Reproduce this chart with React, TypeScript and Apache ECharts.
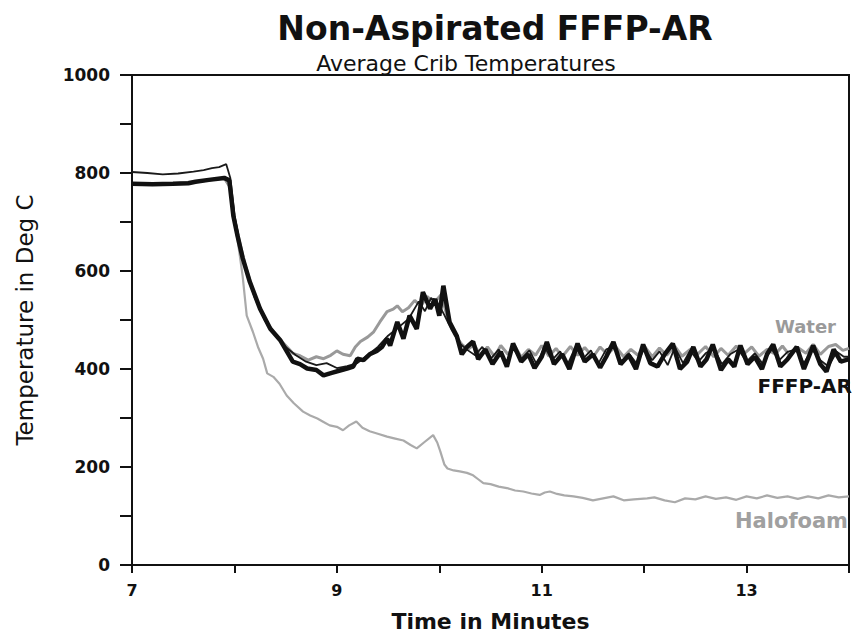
import React, { useEffect, useRef } from "react";
import * as echarts from "echarts";

const xTicks = [7, 9, 11, 13];
const yTickLabels = [0, 200, 400, 600, 800, 1000];

const fffpAR: [number, number][] = [
  [7.0, 778], [7.2, 777], [7.4, 778], [7.55, 779], [7.62, 782], [7.75, 786], [7.9, 790], [7.95, 785],
  [7.99, 712], [8.03, 672], [8.08, 627], [8.15, 578], [8.25, 523], [8.35, 482], [8.45, 458], [8.57, 415],
  [8.64, 410], [8.71, 401], [8.8, 398], [8.87, 387], [8.95, 392], [9.03, 397], [9.1, 401], [9.16, 405],
  [9.2, 421], [9.26, 418], [9.32, 430], [9.39, 437], [9.44, 445], [9.49, 462], [9.52, 448], [9.59, 496],
  [9.65, 462], [9.71, 509], [9.78, 482], [9.84, 557], [9.91, 523], [9.96, 543], [10.0, 509], [10.04, 570],
  [10.1, 496], [10.17, 468], [10.22, 430], [10.27, 445], [10.33, 456], [10.38, 420], [10.45, 440], [10.52, 410],
  [10.6, 435], [10.66, 405], [10.72, 452], [10.8, 415], [10.87, 430], [10.93, 402], [11.0, 425], [11.05, 455],
  [11.12, 410], [11.2, 430], [11.27, 400], [11.35, 452], [11.42, 415], [11.5, 430], [11.57, 403], [11.63, 425],
  [11.7, 455], [11.77, 410], [11.85, 428], [11.92, 400], [11.99, 450], [12.06, 412], [12.13, 405], [12.2, 430],
  [12.28, 452], [12.35, 400], [12.42, 415], [12.48, 445], [12.55, 405], [12.61, 420], [12.67, 450], [12.75, 398],
  [12.82, 420], [12.88, 405], [12.94, 448], [13.01, 410], [13.08, 425], [13.15, 400], [13.2, 430], [13.26, 450],
  [13.33, 405], [13.4, 420], [13.49, 445], [13.56, 400], [13.65, 448], [13.72, 410], [13.78, 395], [13.85, 440],
  [13.92, 415], [14.0, 420],
];

const fffpAR2: [number, number][] = [
  [7.0, 802], [7.15, 800], [7.3, 797], [7.45, 799], [7.6, 803], [7.7, 806], [7.78, 810], [7.85, 812], [7.92, 818],
  [7.96, 790], [8.0, 715], [8.05, 660], [8.1, 612], [8.2, 545], [8.3, 498], [8.4, 470], [8.5, 445], [8.6, 428],
  [8.7, 415], [8.8, 408], [8.9, 412], [9.0, 402], [9.1, 406], [9.2, 412], [9.3, 428], [9.4, 445], [9.5, 468],
  [9.6, 485], [9.7, 502], [9.8, 538], [9.86, 518], [9.92, 545], [10.0, 530], [10.05, 510], [10.12, 480], [10.2, 452],
  [10.28, 438], [10.35, 428], [10.42, 445], [10.5, 420], [10.58, 440], [10.65, 412], [10.72, 442], [10.8, 420],
  [10.88, 438], [10.95, 410], [11.03, 445], [11.1, 418], [11.18, 436], [11.25, 408], [11.33, 445], [11.4, 420],
  [11.48, 438], [11.55, 410], [11.63, 440], [11.7, 445], [11.78, 415], [11.85, 432], [11.93, 410], [12.0, 442],
  [12.08, 418], [12.15, 436], [12.23, 408], [12.3, 444], [12.38, 412], [12.45, 438], [12.53, 415], [12.6, 432],
  [12.68, 442], [12.76, 410], [12.84, 430], [12.92, 440], [13.0, 415], [13.08, 432], [13.16, 410], [13.24, 442],
  [13.32, 418], [13.4, 435], [13.48, 440], [13.56, 412], [13.64, 440], [13.72, 418], [13.8, 405], [13.88, 435],
  [13.95, 425], [14.0, 425],
];

const water: [number, number][] = [
  [7.0, 778], [7.4, 778], [7.62, 782], [7.9, 790], [7.96, 770], [8.0, 705], [8.05, 660], [8.1, 615], [8.2, 548], [8.3, 500],
  [8.4, 470], [8.5, 448], [8.57, 432], [8.64, 427], [8.72, 418], [8.8, 425], [8.87, 421], [8.94, 428], [9.0, 437],
  [9.06, 430], [9.13, 427], [9.18, 445], [9.23, 456], [9.3, 465], [9.36, 476], [9.42, 496], [9.49, 517], [9.55, 522],
  [9.59, 529], [9.64, 517], [9.7, 525], [9.76, 540], [9.82, 528], [9.88, 548], [9.95, 535], [10.02, 552], [10.08, 505],
  [10.15, 470], [10.22, 450], [10.28, 440], [10.34, 450], [10.4, 428], [10.47, 445], [10.54, 425], [10.6, 448],
  [10.67, 430], [10.74, 446], [10.8, 424], [10.87, 440], [10.94, 428], [11.0, 448], [11.07, 426], [11.14, 442],
  [11.2, 425], [11.28, 446], [11.35, 428], [11.42, 444], [11.5, 424], [11.57, 445], [11.64, 430], [11.72, 446],
  [11.8, 425], [11.87, 440], [11.94, 428], [12.0, 447], [12.08, 425], [12.15, 443], [12.22, 428], [12.3, 446],
  [12.37, 426], [12.45, 440], [12.52, 430], [12.6, 446], [12.68, 425], [12.75, 442], [12.82, 428], [12.9, 447],
  [12.97, 430], [13.05, 445], [13.12, 426], [13.2, 440], [13.28, 430], [13.35, 447], [13.42, 428], [13.5, 444],
  [13.58, 432], [13.65, 450], [13.72, 430], [13.8, 446], [13.87, 450], [13.94, 438], [14.0, 442],
];

const halofoam: [number, number][] = [
  [7.0, 778], [7.4, 778], [7.62, 782], [7.9, 790], [7.96, 770], [8.0, 705], [8.04, 650], [8.08, 590], [8.12, 509], [8.18, 476],
  [8.23, 445], [8.28, 421], [8.32, 391], [8.38, 384], [8.44, 370], [8.51, 346], [8.58, 330], [8.67, 313], [8.74, 305],
  [8.81, 299], [8.87, 292], [8.93, 285], [9.0, 282], [9.06, 275], [9.12, 285], [9.19, 293], [9.25, 280], [9.32, 273],
  [9.4, 268], [9.49, 262], [9.57, 258], [9.65, 254], [9.72, 245], [9.78, 238], [9.85, 250], [9.94, 265], [9.98, 250],
  [10.01, 232], [10.05, 205], [10.08, 197], [10.14, 193], [10.2, 191], [10.27, 188], [10.33, 183], [10.38, 175],
  [10.43, 167], [10.5, 165], [10.58, 160], [10.66, 157], [10.74, 152], [10.82, 150], [10.9, 146], [10.98, 143],
  [11.03, 148], [11.08, 150], [11.15, 145], [11.22, 142], [11.31, 140], [11.4, 137], [11.5, 132], [11.6, 136],
  [11.7, 140], [11.8, 132], [11.9, 134], [12.03, 136], [12.1, 138], [12.2, 132], [12.3, 128], [12.4, 136],
  [12.5, 134], [12.6, 140], [12.7, 135], [12.8, 138], [12.9, 133], [13.0, 140], [13.1, 136], [13.2, 142],
  [13.3, 137], [13.4, 140], [13.5, 135], [13.6, 140], [13.7, 136], [13.8, 142], [13.9, 138], [14.0, 140],
];

const FONT = "DejaVu Sans";

export default function App() {
  const ref = useRef<HTMLDivElement>(null);
  useEffect(() => {
    if (!ref.current) return;
    const chart = echarts.init(ref.current, undefined, { renderer: "svg" });
    chart.setOption({
      animation: false,
      backgroundColor: "#fff",
      textStyle: { fontFamily: FONT },
      grid: { left: 132, right: 5, top: 75, bottom: 70, show: true, borderColor: "#111", borderWidth: 2, containLabel: false },
      xAxis: {
        type: "value",
        min: 7,
        max: 14,
        interval: 1,
        name: "Time in Minutes",
        nameLocation: "middle",
        nameGap: 45,
        nameTextStyle: { fontFamily: FONT, fontSize: 22, fontWeight: "bold", color: "#111" },
        axisLine: { show: true, lineStyle: { color: "#111", width: 2 } },
        axisTick: { show: true, inside: false, length: 8, lineStyle: { color: "#111", width: 2 } },
        axisLabel: {
          margin: 17,
          fontFamily: FONT,
          fontSize: 16,
          fontWeight: "bold",
          color: "#111",
          formatter: (v: number) => (xTicks.includes(v) ? String(v) : ""),
        },
        splitLine: { show: false },
      },
      yAxis: {
        type: "value",
        min: 0,
        max: 1000,
        interval: 100,
        name: "Temperature in Deg C",
        nameLocation: "middle",
        nameGap: 96,
        nameRotate: 90,
        nameTextStyle: { fontFamily: FONT, fontSize: 23, fontWeight: "normal", color: "#111" },
        axisLine: { show: true, lineStyle: { color: "#111", width: 2 } },
        axisTick: { show: true, inside: false, length: 12, lineStyle: { color: "#111", width: 2 } },
        axisLabel: {
          margin: 22,
          fontFamily: FONT,
          fontSize: 17,
          fontWeight: "bold",
          color: "#111",
          formatter: (v: number) => (yTickLabels.includes(v) ? String(v) : ""),
        },
        splitLine: { show: false },
      },
      title: [
        {
          text: "Non-Aspirated FFFP-AR",
          left: 490,
          top: 7,
          textAlign: "center",
          textStyle: { fontFamily: FONT, fontSize: 33, fontWeight: "bold", color: "#111" },
        },
        {
          text: "Average Crib Temperatures",
          left: 461,
          top: 47,
          textAlign: "center",
          textStyle: { fontFamily: FONT, fontSize: 22, fontWeight: "normal", color: "#111" },
        },
      ],
      series: [
        { name: "Halofoam", type: "line", data: halofoam, showSymbol: false, lineStyle: { color: "#aaaaaa", width: 2.2 }, z: 2 },
        { name: "Water", type: "line", data: water, showSymbol: false, lineStyle: { color: "#999999", width: 3 }, z: 3 },
        { name: "FFFP-AR (2)", type: "line", data: fffpAR2, showSymbol: false, lineStyle: { color: "#1a1a1a", width: 1.8 }, z: 4 },
        { name: "FFFP-AR", type: "line", data: fffpAR, showSymbol: false, lineStyle: { color: "#111", width: 4.5 }, z: 5 },
      ],
      graphic: [
        { type: "text", right: 18, top: 317, style: { text: "Water", fill: "#9a9a9a", font: `bold 18px "${FONT}"` } },
        { type: "text", right: 2, top: 376, style: { text: "FFFP-AR", fill: "#111", font: `bold 20px "${FONT}"` } },
        { type: "text", right: 6, top: 510, style: { text: "Halofoam", fill: "#a0a0a0", font: `bold 21px "${FONT}"` } },
      ],
    });
    return () => chart.dispose();
  }, []);
  return <div ref={ref} style={{ position: "fixed", left: 0, top: 0, width: 854, height: 637 }} />;
}
